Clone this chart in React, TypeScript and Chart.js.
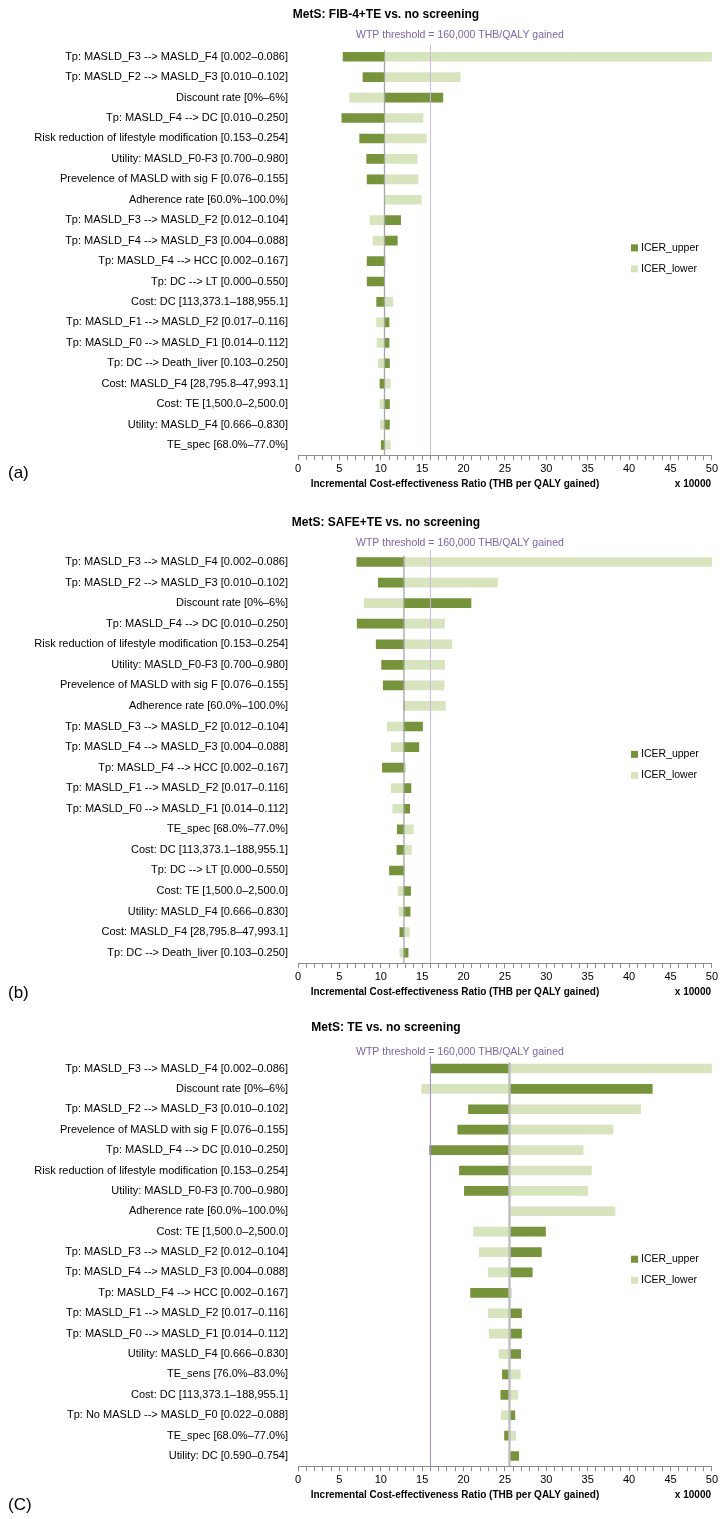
import { useEffect, useRef } from 'react';
import { Chart, registerables } from 'chart.js';

Chart.register(...registerables);

// ICER values are in units of 10,000 THB per QALY gained.
const fibLabels = [
  'Tp: MASLD_F3 --> MASLD_F4 [0.002–0.086]',
  'Tp: MASLD_F2 --> MASLD_F3 [0.010–0.102]',
  'Discount rate [0%–6%]',
  'Tp: MASLD_F4 --> DC [0.010–0.250]',
  'Risk reduction of lifestyle modification [0.153–0.254]',
  'Utility: MASLD_F0-F3 [0.700–0.980]',
  'Prevelence of MASLD with sig F [0.076–0.155]',
  'Adherence rate [60.0%–100.0%]',
  'Tp: MASLD_F3 --> MASLD_F2 [0.012–0.104]',
  'Tp: MASLD_F4 --> MASLD_F3 [0.004–0.088]',
  'Tp: MASLD_F4 --> HCC [0.002–0.167]',
  'Tp: DC --> LT [0.000–0.550]',
  'Cost: DC [113,373.1–188,955.1]',
  'Tp: MASLD_F1 --> MASLD_F2 [0.017–0.116]',
  'Tp: MASLD_F0 --> MASLD_F1 [0.014–0.112]',
  'Tp: DC --> Death_liver [0.103–0.250]',
  'Cost: MASLD_F4 [28,795.8–47,993.1]',
  'Cost: TE [1,500.0–2,500.0]',
  'Utility: MASLD_F4 [0.666–0.830]',
  'TE_spec [68.0%–77.0%]',
];
const fibBase = 10.45;
const fibUpper = [5.45, 7.85, 17.5, 5.3, 7.45, 8.3, 8.35, 10.45, 12.4, 12.0, 8.35, 8.35, 9.5, 11.0, 11.0, 11.05, 9.9, 11.05, 11.05, 10.05];
const fibLower = [50, 19.6, 6.25, 15.1, 15.5, 14.4, 14.5, 14.9, 8.7, 9.05, 10.6, 10.45, 11.45, 9.5, 9.55, 9.7, 11.15, 9.9, 9.95, 11.15];

const safeLabels = [
  'Tp: MASLD_F3 --> MASLD_F4 [0.002–0.086]',
  'Tp: MASLD_F2 --> MASLD_F3 [0.010–0.102]',
  'Discount rate [0%–6%]',
  'Tp: MASLD_F4 --> DC [0.010–0.250]',
  'Risk reduction of lifestyle modification [0.153–0.254]',
  'Utility: MASLD_F0-F3 [0.700–0.980]',
  'Prevelence of MASLD with sig F [0.076–0.155]',
  'Adherence rate [60.0%–100.0%]',
  'Tp: MASLD_F3 --> MASLD_F2 [0.012–0.104]',
  'Tp: MASLD_F4 --> MASLD_F3 [0.004–0.088]',
  'Tp: MASLD_F4 --> HCC [0.002–0.167]',
  'Tp: MASLD_F1 --> MASLD_F2 [0.017–0.116]',
  'Tp: MASLD_F0 --> MASLD_F1 [0.014–0.112]',
  'TE_spec [68.0%–77.0%]',
  'Cost: DC [113,373.1–188,955.1]',
  'Tp: DC --> LT [0.000–0.550]',
  'Cost: TE [1,500.0–2,500.0]',
  'Utility: MASLD_F4 [0.666–0.830]',
  'Cost: MASLD_F4 [28,795.8–47,993.1]',
  'Tp: DC --> Death_liver [0.103–0.250]',
];
const safeBase = 12.8;
const safeUpper = [7.1, 9.7, 20.9, 7.15, 9.45, 10.1, 10.3, 12.8, 15.05, 14.6, 10.2, 13.65, 13.5, 12.0, 11.95, 11.05, 13.6, 13.55, 12.3, 13.3];
const safeLower = [50, 24.1, 8.0, 17.7, 18.6, 17.7, 17.65, 17.8, 10.8, 11.25, 13.0, 11.25, 11.45, 13.95, 13.7, 12.8, 12.1, 12.2, 13.45, 12.3];

const teLabels = [
  'Tp: MASLD_F3 --> MASLD_F4 [0.002–0.086]',
  'Discount rate [0%–6%]',
  'Tp: MASLD_F2 --> MASLD_F3 [0.010–0.102]',
  'Prevelence of MASLD with sig F [0.076–0.155]',
  'Tp: MASLD_F4 --> DC [0.010–0.250]',
  'Risk reduction of lifestyle modification [0.153–0.254]',
  'Utility: MASLD_F0-F3 [0.700–0.980]',
  'Adherence rate [60.0%–100.0%]',
  'Cost: TE [1,500.0–2,500.0]',
  'Tp: MASLD_F3 --> MASLD_F2 [0.012–0.104]',
  'Tp: MASLD_F4 --> MASLD_F3 [0.004–0.088]',
  'Tp: MASLD_F4 --> HCC [0.002–0.167]',
  'Tp: MASLD_F1 --> MASLD_F2 [0.017–0.116]',
  'Tp: MASLD_F0 --> MASLD_F1 [0.014–0.112]',
  'Utility: MASLD_F4 [0.666–0.830]',
  'TE_sens [76.0%–83.0%]',
  'Cost: DC [113,373.1–188,955.1]',
  'Tp: No MASLD --> MASLD_F0 [0.022–0.088]',
  'TE_spec [68.0%–77.0%]',
  'Utility: DC [0.590–0.754]',
];
const teBase = 25.55;
const teUpper = [16.0, 42.8, 20.6, 19.3, 15.9, 19.5, 20.1, 25.55, 29.9, 29.4, 28.3, 20.85, 27.0, 27.0, 26.9, 24.7, 24.5, 26.2, 24.95, 26.65];
const teLower = [50, 14.95, 41.4, 38.05, 34.45, 35.45, 35.0, 38.3, 21.2, 21.9, 23.0, 25.8, 23.0, 23.1, 24.3, 26.85, 26.55, 24.55, 26.3, 25.55];

const wtpThreshold = 16;
const xMin = 0;
const xMax = 50;
const xLabelStep = 5;

const FONT = '"Liberation Sans", Arial, sans-serif';
const DARK = '#77933C';
const LIGHT = '#D7E4BD';
const PURPLE_TEXT = '#7E65A6';

type Panel = {
  title: string;
  tag: string;
  labels: string[];
  upper: number[];
  lower: number[];
  base: number;
  top: number;
  height: number;
  areaTop: number;
  areaBottom: number;
  titleY: number;
  wtpY: number;
  tagY: number;
  baseLineColor: string;
  baseLineWidth: number;
  wtpColor: string;
};

const panels: Panel[] = [
  {
    title: 'MetS: FIB-4+TE vs. no screening', tag: '(a)',
    labels: fibLabels, upper: fibUpper, lower: fibLower, base: fibBase,
    top: 0, height: 510, areaTop: 46.5, areaBottom: 455.2,
    titleY: 15, wtpY: 35, tagY: 473,
    baseLineColor: '#A6A6A6', baseLineWidth: 1.3, wtpColor: '#C9B9E3',
  },
  {
    title: 'MetS: SAFE+TE vs. no screening', tag: '(b)',
    labels: safeLabels, upper: safeUpper, lower: safeLower, base: safeBase,
    top: 510, height: 505, areaTop: 551.7, areaBottom: 963,
    titleY: 523, wtpY: 543, tagY: 993,
    baseLineColor: '#A6A6A6', baseLineWidth: 1.3, wtpColor: '#C9B9E3',
  },
  {
    title: 'MetS: TE vs. no screening', tag: '(C)',
    labels: teLabels, upper: teUpper, lower: teLower, base: teBase,
    top: 1015, height: 504, areaTop: 1058.3, areaBottom: 1466.2,
    titleY: 1028, wtpY: 1052, tagY: 1505,
    baseLineColor: '#C0C0C0', baseLineWidth: 2.5, wtpColor: '#A48AD8',
  },
];

const AREA_LEFT = 298;
const AREA_RIGHT = 713;
const X_AXIS_HEIGHT = 40;

function TornadoPanel({ panel }: { panel: Panel }) {
  const ref = useRef<HTMLCanvasElement | null>(null);

  useEffect(() => {
    const canvas = ref.current;
    if (!canvas) return;
    const p = panel;
    const off = p.top;

    const decor = {
      id: 'tornadoDecor',
      afterDatasetsDraw(chart: any) {
        const { ctx, chartArea, scales } = chart;
        const x = scales.x;
        ctx.save();
        // baseline ICER line
        const bx = x.getPixelForValue(p.base);
        ctx.strokeStyle = p.baseLineColor;
        ctx.lineWidth = p.baseLineWidth;
        ctx.beginPath();
        ctx.moveTo(bx, chartArea.top + 4);
        ctx.lineTo(bx, chartArea.bottom);
        ctx.stroke();
        // willingness-to-pay threshold line
        const wx = x.getPixelForValue(wtpThreshold);
        ctx.strokeStyle = p.wtpColor;
        ctx.lineWidth = 1;
        ctx.beginPath();
        ctx.moveTo(wx, chartArea.top - 2);
        ctx.lineTo(wx, chartArea.bottom);
        ctx.stroke();
        ctx.restore();
      },
      afterDraw(chart: any) {
        const { ctx, chartArea } = chart;
        ctx.save();
        ctx.textBaseline = 'middle';
        // panel title
        ctx.fillStyle = '#000';
        ctx.font = `bold 12px ${FONT}`;
        ctx.textAlign = 'center';
        ctx.fillText(p.title, 386, p.titleY - off);
        // threshold label
        ctx.fillStyle = PURPLE_TEXT;
        ctx.font = `10.5px ${FONT}`;
        ctx.textAlign = 'left';
        ctx.fillText('WTP threshold = 160,000 THB/QALY gained', 356, p.wtpY - off);
        // axis title and unit multiplier
        const axisY = chartArea.bottom;
        ctx.fillStyle = '#000';
        ctx.font = `bold 10px ${FONT}`;
        ctx.textAlign = 'center';
        ctx.fillText('Incremental Cost-effectiveness Ratio (THB per QALY gained)', 455, axisY + 29);
        ctx.textAlign = 'right';
        ctx.fillText('x 10000', 711, axisY + 29);
        // panel tag
        ctx.font = `17px ${FONT}`;
        ctx.textAlign = 'left';
        ctx.fillText(p.tag, 8, p.tagY - off);
        // legend
        const mid = (chartArea.top + chartArea.bottom) / 2;
        const rows = [mid - 3, mid + 18];
        ctx.font = `10.5px ${FONT}`;
        chart.data.datasets.forEach((ds: any, i: number) => {
          const y = rows[i];
          ctx.fillStyle = ds.backgroundColor;
          ctx.fillRect(631, y - 3.5, 7, 7);
          ctx.fillStyle = '#000';
          ctx.fillText(ds.label, 641, y);
        });
        ctx.restore();
      },
    };

    const chart = new Chart(canvas, {
      type: 'bar',
      data: {
        labels: p.labels,
        datasets: [
          {
            label: 'ICER_upper',
            data: p.upper.map((v) => [p.base, v]) as any,
            backgroundColor: DARK,
            barThickness: 9,
            grouped: false,
            borderSkipped: false,
          },
          {
            label: 'ICER_lower',
            data: p.lower.map((v) => [p.base, v]) as any,
            backgroundColor: LIGHT,
            barThickness: 9,
            grouped: false,
            borderSkipped: false,
          },
        ],
      },
      options: {
        indexAxis: 'y',
        responsive: false,
        animation: false,
        layout: {
          padding: {
            top: p.areaTop - off,
            bottom: p.height - X_AXIS_HEIGHT - (p.areaBottom - off),
            left: 0,
            right: 720 - AREA_RIGHT,
          },
        },
        plugins: {
          legend: { display: false },
          tooltip: { enabled: false },
          title: { display: false },
        },
        scales: {
          x: {
            type: 'linear',
            min: xMin,
            max: xMax,
            grid: {
              display: true,
              drawOnChartArea: false,
              drawTicks: true,
              tickLength: 5,
              color: '#8C8C8C',
            },
            border: { display: true, color: '#8C8C8C', width: 1 },
            ticks: {
              stepSize: 1,
              autoSkip: false,
              maxRotation: 0,
              padding: 2,
              color: '#000',
              font: { family: FONT, size: 11 },
              callback: (v: any) => (Number(v) % xLabelStep === 0 ? String(v) : ''),
            },
            afterFit: (scale: any) => {
              scale.height = X_AXIS_HEIGHT;
            },
          },
          y: {
            type: 'category',
            grid: { display: false, drawTicks: false },
            border: { display: false },
            ticks: {
              autoSkip: false,
              padding: 10,
              color: '#000',
              font: { family: FONT, size: 11 },
            },
            afterFit: (scale: any) => {
              scale.width = AREA_LEFT;
            },
          },
        },
      },
      plugins: [decor],
    });

    return () => chart.destroy();
  }, [panel]);

  return (
    <canvas
      ref={ref}
      width={720}
      height={panel.height}
      style={{ position: 'absolute', left: 0, top: panel.top, width: 720, height: panel.height, display: 'block' }}
    />
  );
}

export default function App() {
  return (
    <div style={{ position: 'absolute', left: 0, top: 0, width: 720, height: 1519, background: '#fff' }}>
      {panels.map((p) => (
        <TornadoPanel key={p.tag} panel={p} />
      ))}
    </div>
  );
}
